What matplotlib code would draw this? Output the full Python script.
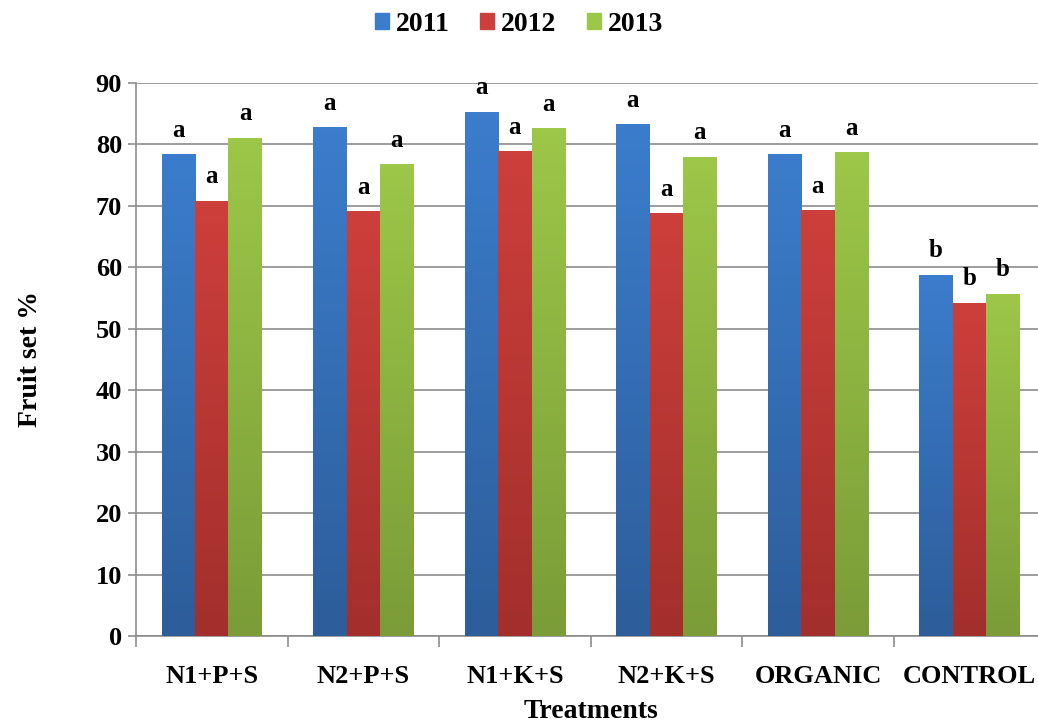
import numpy as np
import matplotlib.pyplot as plt
from matplotlib.colors import LinearSegmentedColormap

# ---- Data ----
treatments = ["N1+P+S", "N2+P+S", "N1+K+S", "N2+K+S", "ORGANIC", "CONTROL"]
years = ["2011", "2012", "2013"]
fs_2011 = [78.4, 82.8, 85.3, 83.3, 78.4, 58.8]
fs_2012 = [70.8, 69.1, 78.9, 68.8, 69.3, 54.2]
fs_2013 = [81.1, 76.8, 82.6, 78.0, 78.7, 55.7]
letters_2011 = ["a", "a", "a", "a", "a", "b"]
letters_2012 = ["a", "a", "a", "a", "a", "b"]
letters_2013 = ["a", "a", "a", "a", "a", "b"]

series = [fs_2011, fs_2012, fs_2013]
letters = [letters_2011, letters_2012, letters_2013]
# (top colour, bottom colour) per year
grad = [("#3b7dcc", "#2d5d9a"), ("#cd3f3b", "#a22f2c"), ("#9cc748", "#7b9c38")]
legend_col = ["#3b7dcc", "#cd3f3b", "#9cc748"]

plt.rcParams["font.family"] = "Liberation Serif"
plt.rcParams["font.weight"] = "bold"

fig = plt.figure(figsize=(10.38, 7.24), dpi=100)
ax = fig.add_axes([0.131, 0.1215, 0.876, 0.764])

x = np.arange(len(treatments))
w = 0.221
for i, vals in enumerate(series):
    pos = x + (i - 1) * w
    bars = ax.bar(pos, vals, w, color=legend_col[i], label=years[i], zorder=3)
    cmap = LinearSegmentedColormap.from_list("g%d" % i, [grad[i][1], grad[i][0]])
    for b in bars:
        # vertical gradient clipped to the bar
        x0, y0 = b.get_x(), b.get_y()
        im = ax.imshow(np.linspace(0, 1, 100).reshape(-1, 1), cmap=cmap,
                       origin="lower", aspect="auto",
                       extent=[x0, x0 + b.get_width(), y0, y0 + b.get_height()],
                       zorder=3.5)
        im.set_clip_path(b)
    for p, v, t in zip(pos, vals, letters[i]):
        ax.annotate(t, (p, v), xytext=(0, 9), textcoords="offset points",
                    ha="center", va="bottom", fontsize=18, fontweight="bold")

ax.set_xlim(-0.5, len(treatments) - 0.5)
ax.set_ylim(0, 90)
ax.set_yticks(np.arange(0, 91, 10))
ax.grid(axis="y", color="#8c8c8c", linewidth=1.2, zorder=0)
ax.set_axisbelow(True)

ax.set_xticks(x)
ax.set_xticklabels(treatments, fontsize=19, fontweight="bold")
ax.set_xticks(np.arange(-0.5, len(treatments)), minor=True)
ax.tick_params(axis="x", which="major", length=0, pad=21)
ax.tick_params(axis="x", which="minor", length=8, color="#8c8c8c", width=1.2)
ax.tick_params(axis="y", length=6, color="#8c8c8c", width=1.2, labelsize=19, pad=4)
for lbl in ax.get_yticklabels():
    lbl.set_fontweight("bold")

for s in ["top", "right"]:
    ax.spines[s].set_visible(False)
for s in ["left", "bottom"]:
    ax.spines[s].set_color("#8c8c8c")
    ax.spines[s].set_linewidth(1.2)

ax.set_ylabel("Fruit set %", fontsize=20, fontweight="bold", labelpad=38)
ax.set_xlabel("Treatments", fontsize=20, fontweight="bold", labelpad=8)

handles = [plt.Rectangle((0, 0), 1, 1, color=c) for c in legend_col]
fig.legend(handles, years, loc="center", bbox_to_anchor=(0.50, 0.966), ncol=3,
           frameon=False, prop={"size": 20, "weight": "bold"},
           handlelength=0.5, handleheight=0.5, handletextpad=0.25, columnspacing=1.1)

fig.savefig("out.png", dpi=100)
